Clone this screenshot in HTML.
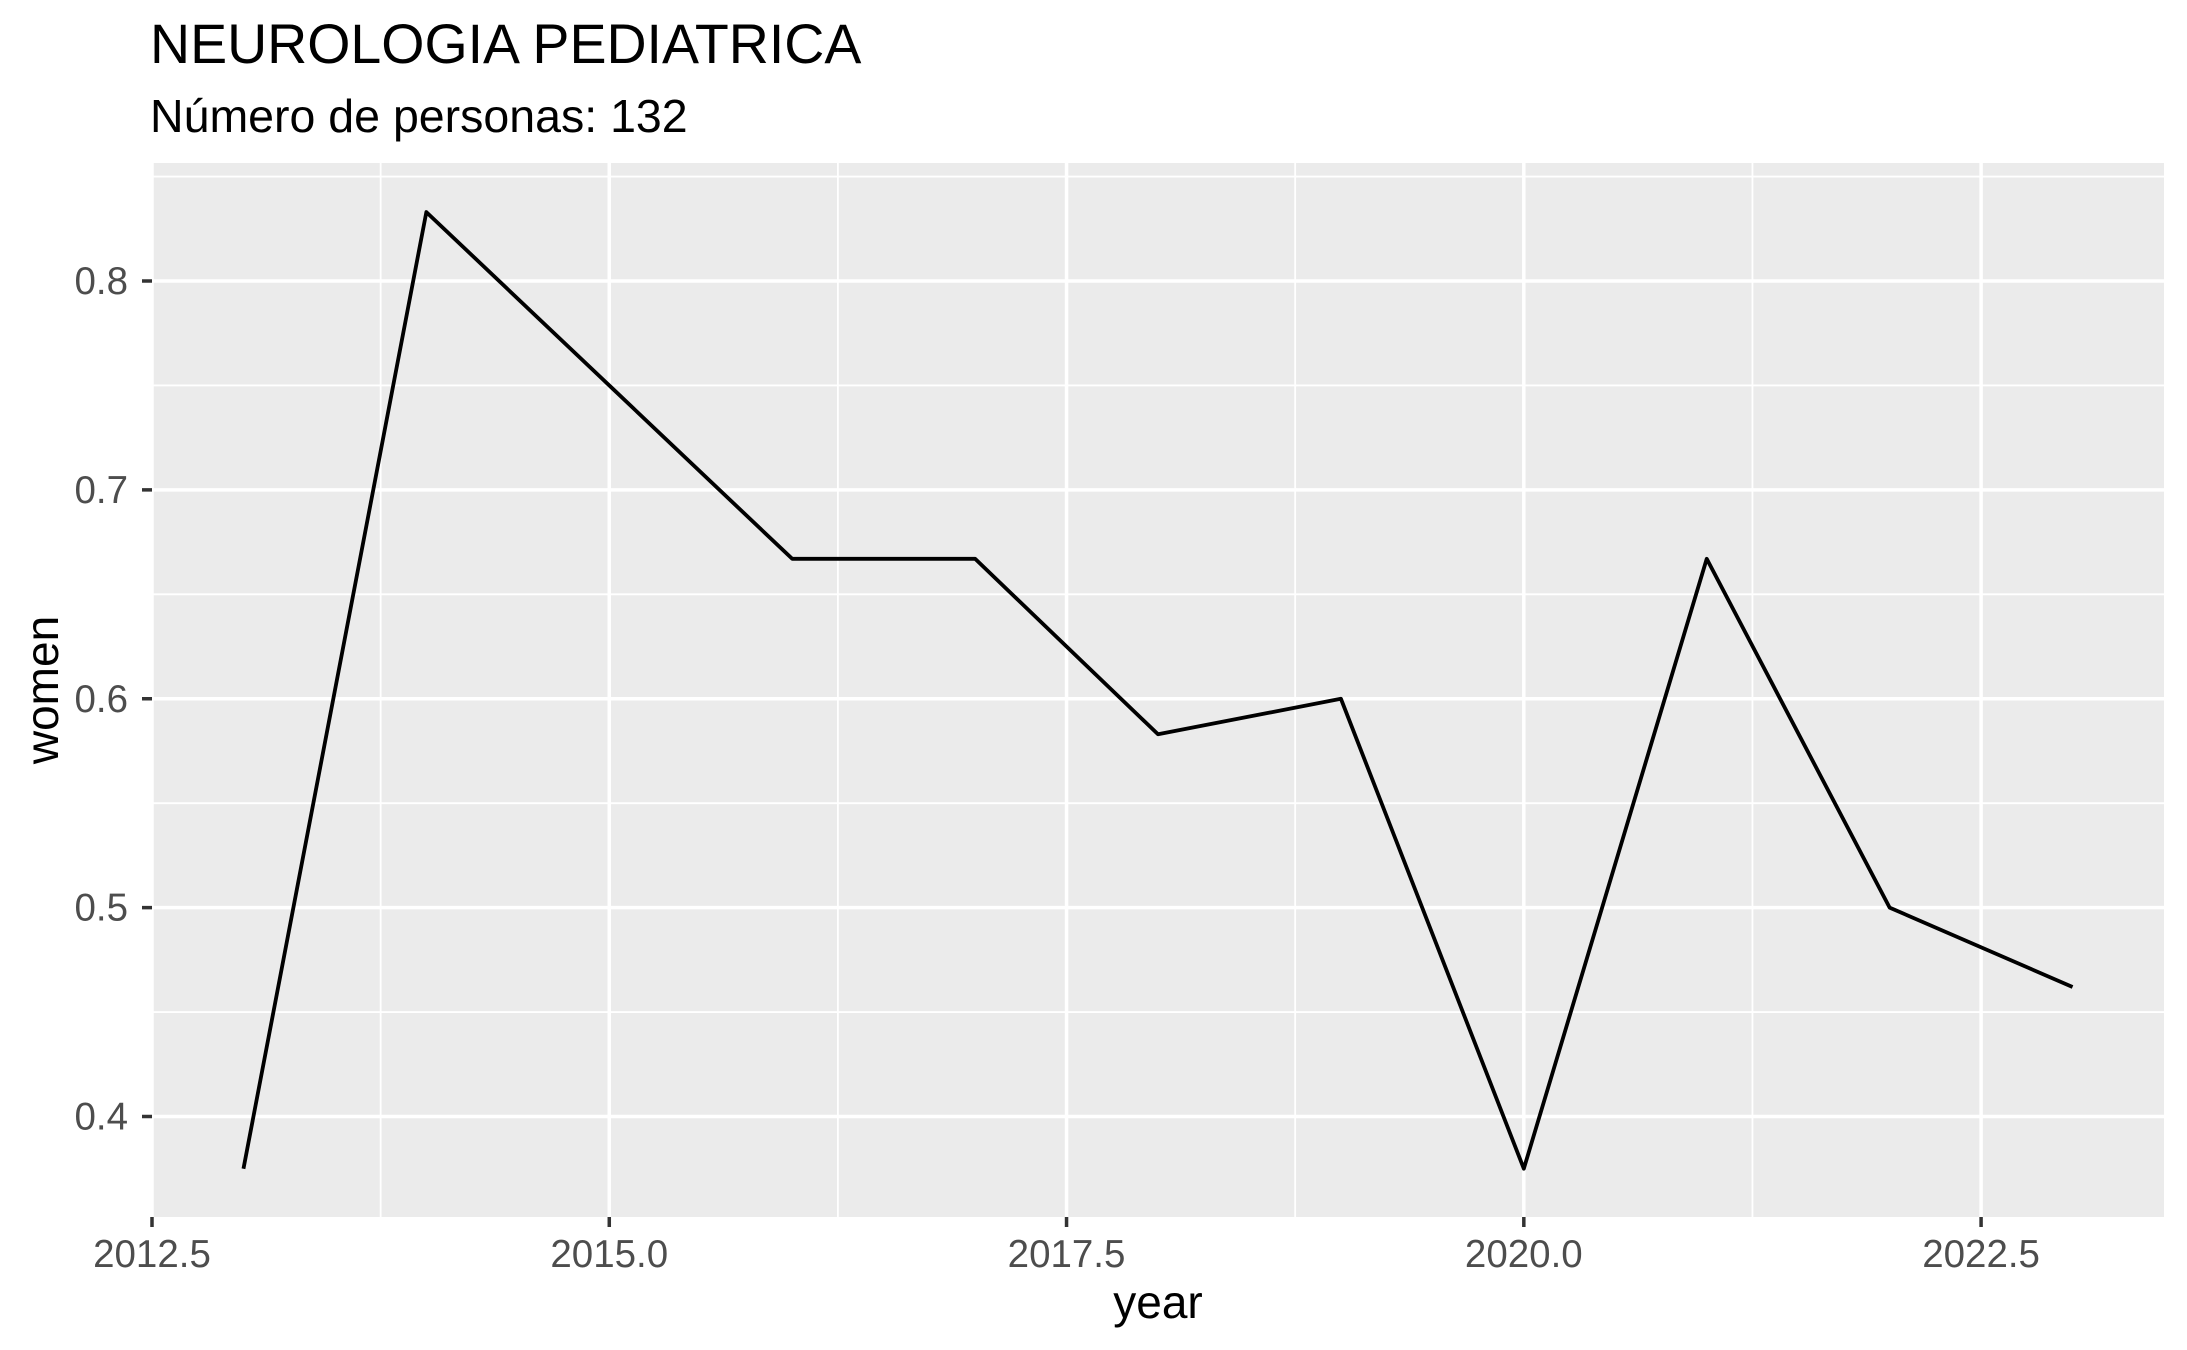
<!DOCTYPE html>
<html><head><meta charset="utf-8"><style>
html,body{margin:0;padding:0;background:#fff;}
svg{display:block;font-family:"Liberation Sans",Arial,sans-serif;}
</style></head><body>
<svg id="chart" width="2187" height="1350" viewBox="0 0 2187 1350">
<text x="150" y="63" font-size="55.5" fill="#000">NEUROLOGIA PEDIATRICA</text>
<text x="150" y="132" font-size="46.5" fill="#000">Número de personas: 132</text>
<rect x="152" y="163" width="2012" height="1054" fill="#ebebeb"/>
<g id="grid"></g>
<g id="axes"></g>
<polyline id="series" fill="none" stroke="#000" stroke-width="3.8" stroke-linejoin="round"/>
<text x="1158" y="1318" font-size="46" text-anchor="middle" fill="#000">year</text>
<text transform="translate(58,690) rotate(-90)" font-size="46" text-anchor="middle" fill="#000">women</text>
</svg>
<script>
const years = [2013,2014,2015,2016,2017,2018,2019,2020,2021,2022,2023];
const women = [0.375,0.833,0.75,0.667,0.667,0.583,0.6,0.375,0.667,0.5,0.462];
const xTicks = [2012.5,2015.0,2017.5,2020.0,2022.5];
const xTickLabels = ["2012.5","2015.0","2017.5","2020.0","2022.5"];
const yTicks = [0.4,0.5,0.6,0.7,0.8];
const yTickLabels = ["0.4","0.5","0.6","0.7","0.8"];

const L=152,R=2164,T=163,B=1217;
const xmin=2012.5,xmax=2023.5;
function xs(v){return L+(v-xmin)/(xmax-xmin)*(R-L);}
function ys(v){return 1116.5-(v-0.4)/0.4*(1116.5-281);}
const NS="http://www.w3.org/2000/svg";
const grid=document.getElementById('grid'), axes=document.getElementById('axes');
function mk(tag,attrs,parent){const e=document.createElementNS(NS,tag);for(const k in attrs)e.setAttribute(k,attrs[k]);parent.appendChild(e);return e;}
for(let i=0;i<xTicks.length-1;i++){
  const m=(xTicks[i]+xTicks[i+1])/2;
  const e=mk('line',{x1:xs(m),x2:xs(m),y1:T,y2:B,stroke:'#fff','stroke-width':1.8},grid);
  
  
}
{const m=xTicks[xTicks.length-1]+1.25; if(m<xmax){const e=mk('line',{x1:xs(m),x2:xs(m),y1:T,y2:B,stroke:'#fff','stroke-width':1.8},grid);
  
  }}
const yMinor=[0.35,0.45,0.55,0.65,0.75,0.85];
yMinor.forEach(v=>{const y=ys(v); if(y>T&&y<B){const e=mk('line',{x1:L,x2:R,y1:y,y2:y,stroke:'#fff','stroke-width':1.8},grid);
  
  }});
xTicks.forEach((v,i)=>{const x=xs(v);
  const g=mk('line',{x1:x,x2:x,y1:T,y2:B,stroke:'#fff','stroke-width':3.5},grid);
  
  
  const t=mk('line',{x1:x,x2:x,y1:B,y2:B+10,stroke:'#333','stroke-width':3.5},axes);
  
  
  const l=mk('text',{x:x,y:1267,'font-size':38.5,'text-anchor':'middle',fill:'#4d4d4d'},axes);
  l.textContent=xTickLabels[i];
  
  
});
yTicks.forEach((v,i)=>{const y=ys(v);
  const g=mk('line',{x1:L,x2:R,y1:y,y2:y,stroke:'#fff','stroke-width':3.5},grid);
  
  
  const t=mk('line',{x1:L-10,x2:L,y1:y,y2:y,stroke:'#333','stroke-width':3.5},axes);
  
  
  const l=mk('text',{x:128,y:y+13,'font-size':38.5,'text-anchor':'end',fill:'#4d4d4d'},axes);
  l.textContent=yTickLabels[i];
  
  
});
document.getElementById('series').setAttribute('points',years.map((y,i)=>xs(y)+','+ys(women[i])).join(' '));
</script>
</body></html>
